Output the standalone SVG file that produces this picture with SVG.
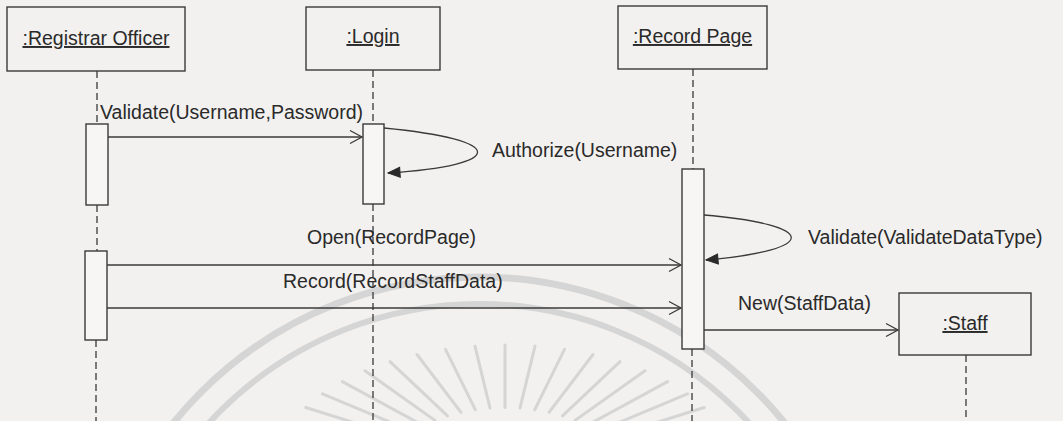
<svg xmlns="http://www.w3.org/2000/svg" width="1063" height="421" viewBox="0 0 1063 421">
<style>
  .bg{fill:#f2f1ef}
  .wm{fill:none;stroke:#d5d5d5;stroke-linecap:round}
  .box{fill:none;stroke:#3a3a3a;stroke-width:1.4}
  .bar{fill:#f7f6f4;stroke:#3a3a3a;stroke-width:1.4}
  .life{fill:none;stroke:#3a3a3a;stroke-width:1.3;stroke-dasharray:7 4}
  .msg{fill:none;stroke:#3a3a3a;stroke-width:1.3}
  .name{font-family:"Liberation Sans",Arial,sans-serif;font-size:19.5px;fill:#2a2a2a;text-anchor:middle;text-decoration:underline}
  .lbl{font-family:"Liberation Sans",Arial,sans-serif;font-size:19.5px;fill:#2a2a2a}
</style>
<defs>
  <marker id="open" markerUnits="userSpaceOnUse" markerWidth="16" markerHeight="16" viewBox="-14 -8 16 16" refX="0" refY="0" orient="auto">
    <path d="M-12,-6.5 L0,0 L-12,6.5" fill="none" stroke="#3a3a3a" stroke-width="1.3"/>
  </marker>
  <marker id="filled" markerUnits="userSpaceOnUse" markerWidth="16" markerHeight="16" viewBox="-14 -8 16 16" refX="0" refY="0" orient="auto">
    <path d="M-12,-5 L0,0 L-12,5 Z" fill="#2a2a2a" stroke="#2a2a2a" stroke-width="1"/>
  </marker>
</defs>
<rect class="bg" x="0" y="0" width="1063" height="421"/>
<g id="watermark">
  <circle class="wm" cx="479" cy="670" r="393" stroke-width="7"/>
  <circle class="wm" cx="479" cy="670" r="366" stroke-width="6"/>
  <g stroke-width="3">
    <line class="wm" x1="305.8" y1="407.5" x2="405.4" y2="438.8"/>
    <line class="wm" x1="322.5" y1="393.9" x2="413.8" y2="432"/>
    <line class="wm" x1="342.4" y1="381.6" x2="423.7" y2="425.8"/>
    <line class="wm" x1="365" y1="370.8" x2="435" y2="420.4"/>
    <line class="wm" x1="390" y1="361.7" x2="447.5" y2="415.9"/>
    <line class="wm" x1="417" y1="354.5" x2="461" y2="412.3"/>
    <line class="wm" x1="445.5" y1="349.3" x2="475.3" y2="409.7"/>
    <line class="wm" x1="475" y1="346.1" x2="490" y2="408"/>
    <line class="wm" x1="505" y1="345" x2="505" y2="407.5"/>
    <line class="wm" x1="535" y1="346.1" x2="520" y2="408"/>
    <line class="wm" x1="564.5" y1="349.3" x2="534.8" y2="409.7"/>
    <line class="wm" x1="593" y1="354.5" x2="549" y2="412.3"/>
    <line class="wm" x1="620" y1="361.7" x2="562.5" y2="415.9"/>
    <line class="wm" x1="645" y1="370.8" x2="575" y2="420.4"/>
    <line class="wm" x1="667.6" y1="381.6" x2="586.3" y2="425.8"/>
    <line class="wm" x1="687.5" y1="393.9" x2="596.2" y2="432"/>
    <line class="wm" x1="704.2" y1="407.5" x2="604.6" y2="438.8"/>
  </g>
</g>
<g id="lifelines">
  <path class="life" d="M97,71 V124 M97,205 V251 M96,340 V421"/>
  <path class="life" d="M373,70 V124 M373,204 V421"/>
  <path class="life" d="M693,69 V169 M692,349 V421"/>
  <path class="life" d="M966,355 V421"/>
</g>
<g id="node-registrar">
  <rect class="box" x="7" y="7" width="178" height="64"/>
  <text class="name" x="96" y="45">:Registrar Officer</text>
  <rect class="bar" x="86" y="124" width="22" height="81"/>
  <rect class="bar" x="85" y="251" width="22" height="89"/>
</g>
<g id="node-login">
  <rect class="box" x="306" y="7" width="134" height="63"/>
  <text class="name" x="373" y="43">:Login</text>
  <rect class="bar" x="363" y="124" width="21" height="80"/>
</g>
<g id="node-recordpage">
  <rect class="box" x="618" y="6" width="149" height="63"/>
  <text class="name" x="692.5" y="43">:Record Page</text>
  <rect class="bar" x="682" y="169" width="22" height="180"/>
</g>
<g id="node-staff">
  <rect class="box" x="899" y="293" width="132" height="62"/>
  <text class="name" x="965" y="330">:Staff</text>
</g>
<g id="connectors">
  <line class="msg" x1="108" y1="137" x2="362" y2="137" marker-end="url(#open)"/>
  <path class="msg" d="M384,128 C508,140 508,165 388,173" marker-end="url(#filled)"/>
  <path class="msg" d="M704,215 C820,225 820,250 706,260" marker-end="url(#filled)"/>
  <line class="msg" x1="107" y1="265" x2="681" y2="265" marker-end="url(#open)"/>
  <line class="msg" x1="107" y1="308" x2="681" y2="308" marker-end="url(#open)"/>
  <line class="msg" x1="704" y1="330" x2="898" y2="330" marker-end="url(#open)"/>
</g>
<g id="labels">
  <text class="lbl" x="100" y="119">Validate(Username,Password)</text>
  <text class="lbl" x="492" y="157">Authorize(Username)</text>
  <text class="lbl" x="307" y="244">Open(RecordPage)</text>
  <text class="lbl" x="808" y="244">Validate(ValidateDataType)</text>
  <text class="lbl" x="283" y="288">Record(RecordStaffData)</text>
  <text class="lbl" x="738" y="310">New(StaffData)</text>
</g>
</svg>
